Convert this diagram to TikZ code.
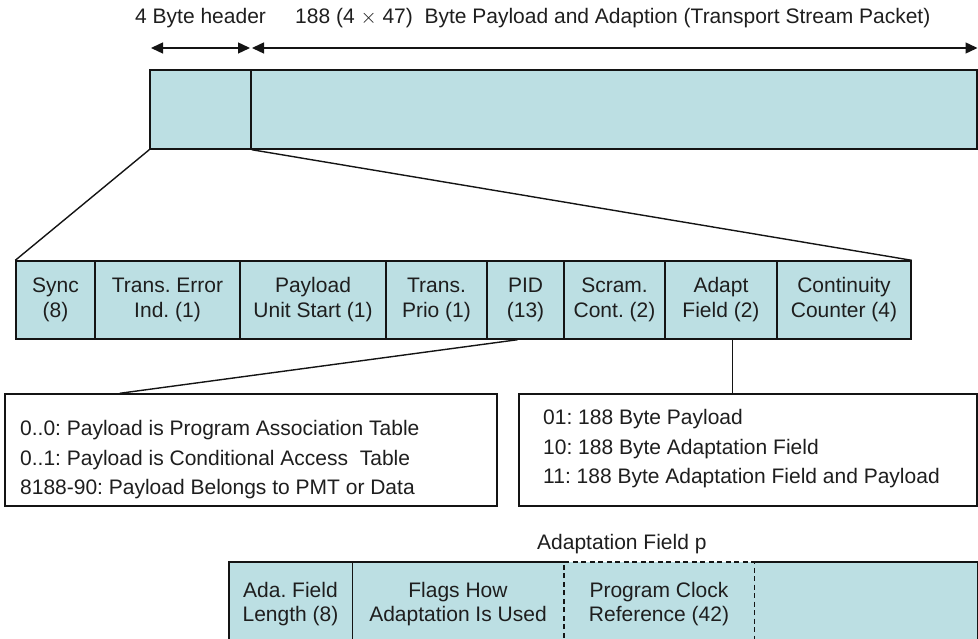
\documentclass[tikz,border=0pt]{standalone}
\usepackage{fontspec}
\setmainfont{Liberation Sans}
\usetikzlibrary{arrows.meta,calc}
\definecolor{cellfill}{RGB}{188,223,227}
\definecolor{ink}{RGB}{20,20,20}
\definecolor{txt}{RGB}{30,30,30}
\frenchspacing

\tikzset{
  rule/.style={draw=ink, line width=1.4pt},
  field/.style={rule, fill=cellfill, inner sep=0pt, align=center, text=txt,
                font=\fontsize{21}{25}\selectfont},
  lowfield/.style={fill=cellfill, inner sep=0pt, align=center, text=txt,
                font=\fontsize{21}{24}\selectfont, minimum height=84pt},
  infobox/.style={rule, fill=white, inner sep=0pt},
  infotext/.style={inner sep=0pt, align=left, anchor=west, text=txt,
                font=\fontsize{21}{29.5}\selectfont},
  label/.style={inner sep=0pt, anchor=base west, text=txt, font=\fontsize{21}{25}\selectfont},
  span/.style={rule, {Triangle[length=12pt,width=11pt]}-{Triangle[length=12pt,width=11pt]}},
  pcrdash/.style={rule, dash pattern=on 5pt off 3.5pt},
}

\begin{document}
\begin{tikzpicture}[x=1pt,y=-1pt]
\useasboundingbox (0,0) rectangle (978,639);
\clip (0,0) rectangle (978,639);

% size labels and their extent arrows
\node[label] (hdrlbl) at (135,24) {4 Byte header};
\node[label] (paylbl) at (295,24) {188 (4 $\times$ 47)\ \ Byte Payload and Adaption (Transport Stream Packet)};
\coordinate (ha) at (151,48);
\coordinate (hb) at (250,48);
\coordinate (pa) at (252,48);
\coordinate (pb) at (977.5,48);
\draw[span] (ha) -- (hb);
\draw[span] (pa) -- (pb);

% transport stream packet
\node[field, minimum width=101pt, minimum height=79pt] (hdr) at (200.5,109.5) {};
\node[field, minimum width=726pt, minimum height=79pt] (pay) at (614,109.5) {};

% header fields
\node[field, minimum width=79pt,  minimum height=78pt] (sync)  at (55.5,300)  {Sync\\(8)};
\node[field, minimum width=145pt, minimum height=78pt] (tei)   at (167.5,300) {Trans. Error\\Ind. (1)};
\node[field, minimum width=146pt, minimum height=78pt] (pusi)  at (313,300)   {Payload\\Unit Start (1)};
\node[field, minimum width=101pt, minimum height=78pt] (prio)  at (436.5,300) {Trans.\\Prio (1)};
\node[field, minimum width=77pt,  minimum height=78pt] (pid)   at (525.5,300) {PID\\(13)};
\node[field, minimum width=101pt, minimum height=78pt] (scram) at (614.5,300) {Scram.\\Cont. (2)};
\node[field, minimum width=112pt, minimum height=78pt] (adapt) at (721,300)   {Adapt\\Field (2)};
\node[field, minimum width=134pt, minimum height=78pt] (cc)    at (844,300)   {Continuity\\Counter (4)};

% zoom lines from header to its fields
\draw[rule] (hdr.south west) -- (sync.north west);
\draw[rule] (hdr.south east) -- (cc.north east);

% value boxes
\node[infobox, minimum width=492pt, minimum height=112pt] (pidbox) at (251,450) {};
\node[infotext] (pidtext) at (20,460) {0..0: Payload is Program Association Table\\0..1: Payload is Conditional Access\ \ Table\\8188-90: Payload Belongs to PMT or Data};
\node[infobox, minimum width=458pt, minimum height=112pt] (afbox) at (748,450) {};
\node[infotext] (aftext) at (543,449) {01: 188 Byte Payload\\10: 188 Byte Adaptation Field\\11: 188 Byte Adaptation Field and Payload};

\coordinate (pidfoot) at ($(pid.south west)!0.4!(pid.south east)$);
\coordinate (pidtop) at ($(pidbox.north west)!0.234!(pidbox.north east)$);
\draw[rule] (pidfoot) -- (pidtop);
\coordinate (adfoot) at ($(adapt.south west)!0.6!(adapt.south east)$);
\draw[rule] (adfoot) -- (adfoot |- afbox.north);

% adaptation field
\node[label] (aflbl) at (537,549) {Adaptation Field p};
\node[lowfield, minimum width=123pt] (ada)   at (290.5,604) {Ada. Field\\Length (8)};
\node[lowfield, minimum width=212pt] (flags) at (458,604)   {Flags How\\Adaptation Is Used};
\node[lowfield, minimum width=190pt] (pcr)   at (659,604)   {Program Clock\\Reference (42)};
\node[lowfield, minimum width=223pt] (rest)  at (865.5,604) {};
\draw[rule] (ada.south west) -- (ada.north west) -- (flags.north east);
\draw[rule] (ada.north east) -- (ada.south east);
\draw[pcrdash] (pcr.south west) -- (pcr.north west) -- (pcr.north east) -- (pcr.south east);
\draw[rule] (rest.north west) -- (rest.north east) -- (rest.south east);
\end{tikzpicture}
\end{document}
